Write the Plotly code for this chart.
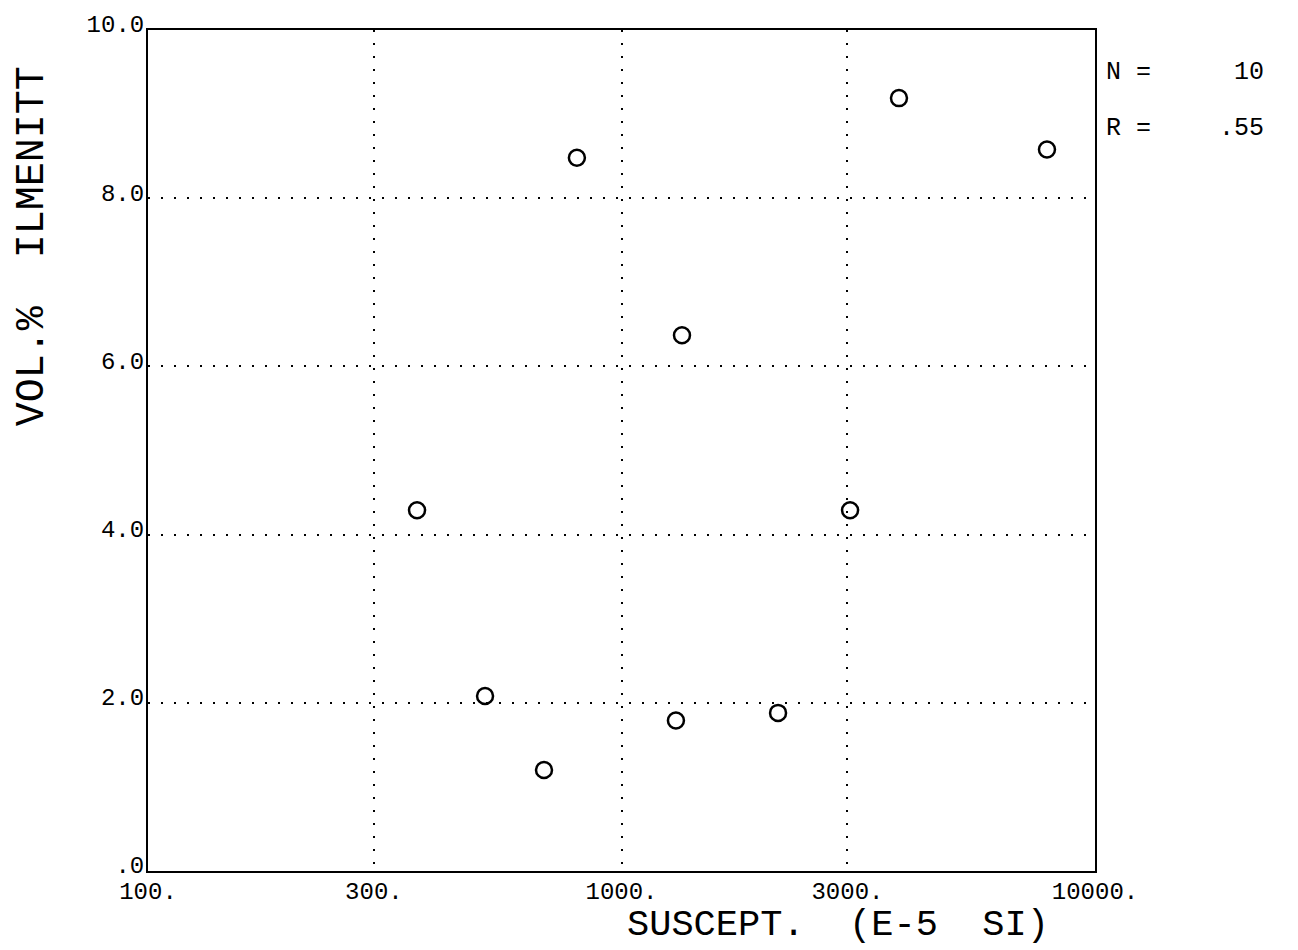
import plotly.graph_objects as go

# Magnetic susceptibility (E-5 SI) vs. ilmenite content (vol. %)
suscept = [370, 515, 686, 805, 1342, 1303, 2141, 3039, 3855, 7917]
ilmenitt = [4.29, 2.08, 1.20, 8.48, 6.37, 1.79, 1.88, 4.29, 9.19, 8.58]

x_tickvals = [100, 300, 1000, 3000, 10000]
x_ticktext = ["100.", "300.", "1000.", "3000.", "10000."]
y_tickvals = [0, 2, 4, 6, 8, 10]
y_ticktext = [".0", "2.0", "4.0", "6.0", "8.0", "10.0"]

n_text = "10"
r_text = ".55"

FONT = "Liberation Mono"
INK = "black"

fig = go.Figure()
fig.add_trace(go.Scatter(
    x=suscept, y=ilmenitt, mode="markers",
    marker=dict(symbol="circle-open", size=16, color=INK, line=dict(width=2.5, color=INK)),
    showlegend=False, hoverinfo="x+y",
))

axis_common = dict(
    showline=True, linecolor=INK, linewidth=2, mirror=True,
    showgrid=True, gridcolor=INK, gridwidth=2, griddash="2px,11px",
    ticks="", zeroline=False,
    tickfont=dict(family=FONT, size=24, color=INK),
)

fig.update_xaxes(
    type="log", range=[2, 4],
    tickvals=x_tickvals, ticktext=x_ticktext,
    ticklabelstandoff=-3,
    **axis_common,
)
fig.update_yaxes(
    range=[0, 10],
    tickvals=y_tickvals, ticktext=y_ticktext,
    ticklabelstandoff=-3, ticklabelshift=-6,
    **axis_common,
)

annots = [
    dict(text="SUSCEPT.\u00a0 (E-5\u00a0 SI)", x=838, y=925,
         font=dict(family=FONT, size=37, color=INK), textangle=0),
    dict(text="VOL.%\u00a0 ILMENITT", x=32, y=244, font=dict(family=FONT, size=40, color=INK),
         textangle=-90),
    dict(text="N =", x=1104, y=70, xanchor="left", font=dict(family=FONT, size=25, color=INK)),
    dict(text="R =", x=1104, y=126, xanchor="left", font=dict(family=FONT, size=25, color=INK)),
    dict(text=n_text, x=1266, y=70, xanchor="right", font=dict(family=FONT, size=25, color=INK)),
    dict(text=r_text, x=1266, y=126, xanchor="right", font=dict(family=FONT, size=25, color=INK)),
]

# Place annotations in pixel coordinates of the 1298x950 page
W, H = 1298, 950
L, R, T, B = 148, 203, 27, 79
pw, ph = W - L - R, H - T - B
for a in annots:
    px, py = a.pop("x"), a.pop("y")
    a.update(
        xref="paper", yref="paper",
        x=(px - L) / pw, y=1 - (py - T) / ph,
        showarrow=False,
    )
    a.setdefault("xanchor", "center")
    a.setdefault("yanchor", "middle")
    fig.add_annotation(**a)

fig.update_layout(
    width=W, height=H,
    margin=dict(l=L, r=R, t=T, b=B, pad=0),
    paper_bgcolor="white", plot_bgcolor="white",
    font=dict(family=FONT, color=INK),
)

fig.write_html("out.html")
